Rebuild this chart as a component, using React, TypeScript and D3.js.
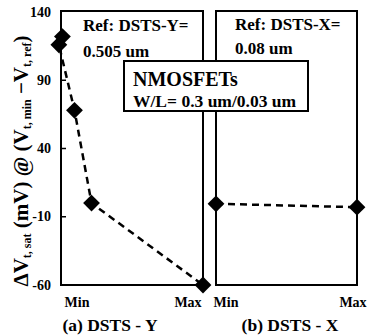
import { useEffect, useRef } from 'react'
import * as d3 from 'd3'

// panel (a): DSTS-Y sweep, position along axis 0 = Min, 100 = Max
const dstsYPos = [1, -1.5, 9.5, 21.5, 100]
const dstsYVals = [122, 116, 68, 0, -60]
// panel (b): DSTS-X sweep
const dstsXPos = [0, 100]
const dstsXVals = [-0.5, -3]

const yTicks = [140, 90, 40, -10, -60]
const xTickLabels = ['Min', 'Max']
const panelLabels = ['(a) DSTS - Y', '(b) DSTS - X']

const FONT = 'Liberation Serif'

function App() {
  const svgRef = useRef<SVGSVGElement>(null)

  useEffect(() => {
    const width = 369
    const height = 336
    const svg = d3.select(svgRef.current)
    svg.selectAll('*').remove()
    svg.attr('width', width).attr('height', height)

    svg.append('rect').attr('width', width).attr('height', height).attr('fill', '#fff')

    const y = d3.scaleLinear().domain([-60, 140]).range([285, 12])
    const xA = d3.scaleLinear().domain([0, 100]).range([61, 203])
    const xB = d3.scaleLinear().domain([0, 100]).range([216, 357])

    const txt = (x: number, yy: number, size: number, s: string, anchor = 'start') =>
      svg.append('text')
        .attr('x', x).attr('y', yy)
        .attr('font-family', FONT).attr('font-weight', 'bold')
        .attr('font-size', size).attr('text-anchor', anchor)
        .text(s)

    // panel frames
    const frames = [xA, xB]
    frames.forEach(x => {
      svg.append('rect')
        .attr('x', x(0)).attr('y', y(140) - 1)
        .attr('width', x(100) - x(0)).attr('height', y(-60) - y(140) + 1)
        .attr('fill', 'none').attr('stroke', '#000').attr('stroke-width', 2)
    })

    // y axis ticks (inside) and labels
    yTicks.forEach(t => {
      if (t !== 140 && t !== -60) {
        svg.append('line')
          .attr('x1', xA(0)).attr('x2', xA(0) + 5)
          .attr('y1', y(t)).attr('y2', y(t))
          .attr('stroke', '#000').attr('stroke-width', 1.5)
      }
      txt(51, y(t) + 4.5, 14, String(t), 'end')
    })

    // x tick labels
    const minMaxX = [[77, 188], [226, 353]]
    minMaxX.forEach(pair => {
      pair.forEach((px, i) => txt(px, 307, 14, xTickLabels[i], 'middle'))
    })
    panelLabels.forEach((lbl, i) => txt(i === 0 ? 110 : 290, 331, 17.5, lbl, 'middle'))

    // series
    const series = [
      { x: xA, pos: dstsYPos, vals: dstsYVals },
      { x: xB, pos: dstsXPos, vals: dstsXVals },
    ]
    series.forEach(s => {
      const pts: [number, number][] = s.pos.map((p, i) => [s.x(p), y(s.vals[i])])
      svg.append('path')
        .attr('d', d3.line()(pts))
        .attr('fill', 'none').attr('stroke', '#000')
        .attr('stroke-width', 2.5).attr('stroke-dasharray', '7,5')
      svg.selectAll(null).data(pts).enter().append('path')
        .attr('transform', d => `translate(${d[0]},${d[1]})`)
        .attr('d', d3.symbol().type(d3.symbolDiamond2).size(180)())
        .attr('fill', '#000')
    })

    // reference annotations
    txt(83, 31, 17, 'Ref: DSTS-Y=')
    txt(83, 57, 17, '0.505 um')
    txt(235, 30, 17, 'Ref: DSTS-X=')
    txt(235, 54, 17, '0.08 um')

    // device box
    svg.append('rect')
      .attr('x', 124).attr('y', 61).attr('width', 184).attr('height', 50)
      .attr('fill', '#fff').attr('stroke', '#000').attr('stroke-width', 2)
    txt(133, 86, 20, 'NMOSFETs')
    txt(133, 107, 17.5, 'W/L= 0.3 um/0.03 um')

    // y axis title
    const title = svg.append('text')
      .attr('transform', 'translate(28,161) rotate(-90)')
      .attr('font-family', FONT).attr('font-weight', 'bold')
      .attr('text-anchor', 'middle').attr('font-size', 21)
    const parts: [string, boolean][] = [
      ['ΔV', false], ['t, sat', true], [' (mV) @ (V', false], ['t, min', true],
      [' −V', false], ['t, ref', true], [')', false],
    ]
    parts.forEach(([s, sub]) => {
      const ts = title.append('tspan').text(s)
      if (sub) ts.attr('font-size', 12).attr('baseline-shift', '-25%')
    })
  }, [])

  return <svg ref={svgRef} style={{ position: 'absolute', left: 0, top: 0 }} />
}

export default App
